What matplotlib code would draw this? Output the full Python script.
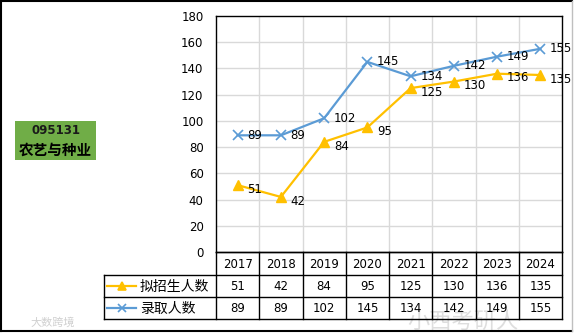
import matplotlib
matplotlib.use("Agg")
import matplotlib.pyplot as plt
from matplotlib.transforms import Affine2D, blended_transform_factory
from matplotlib.lines import Line2D
from matplotlib.patches import Rectangle

plt.rcParams['font.family'] = ['DejaVu Sans', 'Noto Sans CJK SC']

years = ["2017", "2018", "2019", "2020", "2021", "2022", "2023", "2024"]
planned = [51, 42, 84, 95, 125, 130, 136, 135]
admitted = [89, 89, 102, 145, 134, 142, 149, 155]
series_names = ["拟招生人数", "录取人数"]
title_code = "095131"
title_name = "农艺与种业"

W, H = 576, 336
fig = plt.figure(figsize=(W / 100, H / 100), dpi=100)
fig.patch.set_facecolor("white")

# pixel -> figure transform (y downward)
pix = Affine2D().scale(1 / W, -1 / H).translate(0, 1) + fig.transFigure

# plot area
L, T, R, B = 216, 16, 562, 252
ax = fig.add_axes([L / W, 1 - B / H, (R - L) / W, (B - T) / H])
n = len(years)
x = list(range(n))
ax.set_xlim(-0.5, n - 0.5)
ax.set_ylim(0, 180)
ax.set_yticks(range(0, 181, 20))
ax.set_xticks([])
for yv in range(20, 180, 20):
    ax.axhline(yv, color="#D9D9D9", lw=1, zorder=0)
for k in range(1, n):
    ax.axvline(k - 0.5, color="#D9D9D9", lw=1, zorder=0)
for s in ax.spines.values():
    s.set_color("black")
    s.set_linewidth(1)
ax.tick_params(axis="y", length=0, pad=9, labelsize=8.5)

c_plan = "#FFC000"
c_adm = "#5B9BD5"
ax.plot(x, planned, color=c_plan, lw=1.6, marker="^", ms=7, mec=c_plan, mfc=c_plan, zorder=3, clip_on=False)
ax.plot(x, admitted, color=c_adm, lw=1.6, marker="x", ms=6.5, mew=1.2, mec=c_adm, zorder=3, clip_on=False)
for xi, v in zip(x, planned):
    ax.annotate(str(v), (xi, v), xytext=(7, -3), textcoords="offset points",
                ha="left", va="center", fontsize=8.5, zorder=4)
for xi, v in zip(x, admitted):
    ax.annotate(str(v), (xi, v), xytext=(7, 0), textcoords="offset points",
                ha="left", va="center", fontsize=8.5, zorder=4)

# data table
tr = blended_transform_factory(ax.transData, pix)
r0, r1, r2, r3 = 252, 275, 297, 319
TL = 104
def pline(xs, ys, transform=pix, color="black", lw=1):
    fig.add_artist(Line2D(xs, ys, transform=transform, color=color, lw=lw))

pline([L, R], [r0, r0])
for yy in (r1, r2, r3):
    pline([TL, R], [yy, yy])
for k in range(n + 1):
    pline([k - 0.5, k - 0.5], [r0, r3], transform=tr)
pline([TL, TL], [r1, r3])

for i, yv in enumerate(years):
    fig.text(i, (r0 + r1) / 2 + 1, yv, transform=tr, ha="center", va="center", fontsize=8.5)
    fig.text(i, (r1 + r2) / 2 + 1, str(planned[i]), transform=tr, ha="center", va="center", fontsize=8.5)
    fig.text(i, (r2 + r3) / 2 + 1, str(admitted[i]), transform=tr, ha="center", va="center", fontsize=8.5)

# legend keys in table
for yy, col, mk, name in [((r1 + r2) / 2, c_plan, "^", series_names[0]),
                          ((r2 + r3) / 2, c_adm, "x", series_names[1])]:
    fig.add_artist(Line2D([107, 136], [yy, yy], transform=pix, color=col, lw=1.6))
    fig.add_artist(Line2D([121.5], [yy], transform=pix, color=col, marker=mk, ms=6,
                          mfc=col, mec=col, mew=1.2, lw=0))
    fig.text(140, yy + 0.5, name, transform=pix, ha="left", va="center", fontsize=10,
             family=["Noto Sans CJK SC", "DejaVu Sans"])

# green label box
fig.add_artist(Rectangle((15, 121), 81, 39, transform=pix, facecolor="#70AD47", edgecolor="none"))
fig.text(55.5, 131, title_code, transform=pix, ha="center", va="center", fontsize=8.5,
         fontweight="bold", color="#1a1a1a")
fig.text(55.5, 149.5, title_name, transform=pix, ha="center", va="center", fontsize=10.5,
         fontweight="bold", family=["Noto Sans CJK SC", "DejaVu Sans"], color="black")

# figure border
pline([1, 1], [1, 331], lw=1.5)
pline([1, 572], [1, 1], lw=1.5)
pline([1, 572], [331, 331], lw=1.5)
pline([572, 572], [1, 331], color="#BFBFBF", lw=1)

# watermarks
fig.text(30, 323, "大数跨境", transform=pix, ha="left", va="center", fontsize=8,
         color="#D0D0D0", family=["Noto Sans CJK SC", "DejaVu Sans"])
fig.text(463, 321, "小西考研人", transform=pix, ha="center", va="center", fontsize=16,
         color="#C8C8C8", alpha=0.6, family=["Noto Sans CJK SC", "DejaVu Sans"], zorder=0)

fig.savefig("out.png", dpi=100)
